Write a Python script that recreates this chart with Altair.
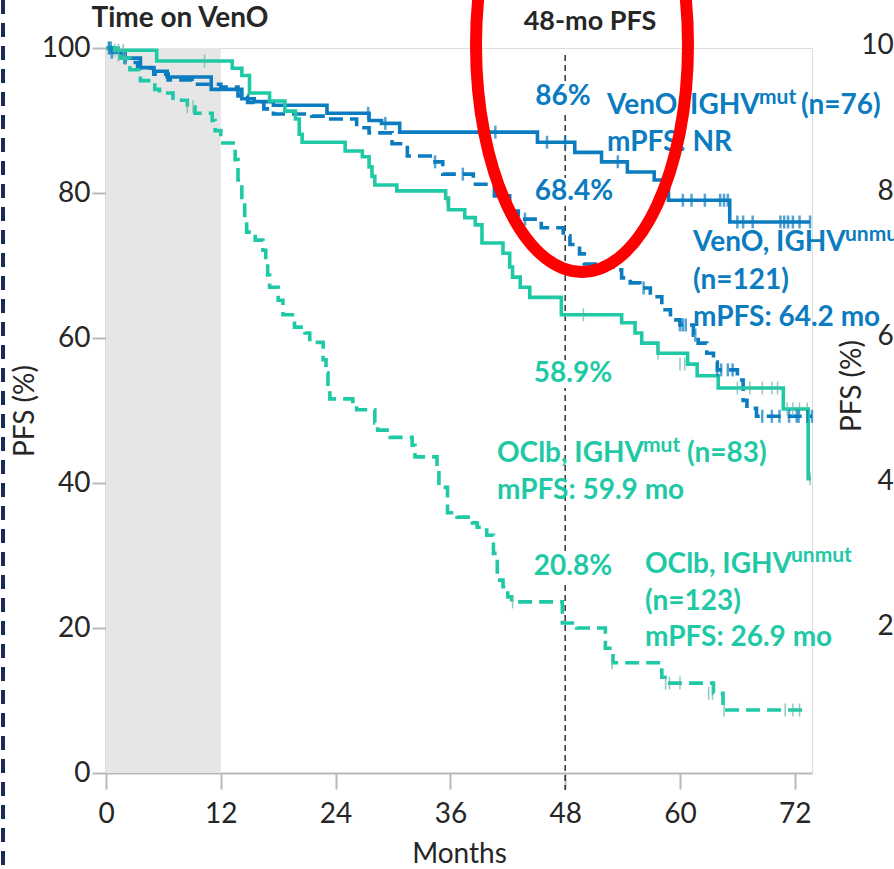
import altair as alt
import pandas as pd

# ---------------- data ----------------
# VenO, IGHV mutated (solid blue)
veno_mut_t = [0, 0.8, 1.6, 3.6, 5.0, 6.4, 11.0, 14.2, 15.5, 17.5, 23.1, 27.5, 28.8, 30.7,
              45.1, 49.0, 51.8, 54.5, 57.3, 58.8, 65.2, 73.6]
veno_mut_p = [100, 99.4, 98.6, 97.3, 96.8, 96.0, 94.3, 93.0, 92.6, 92.1, 91.0, 90.0, 89.6, 88.4,
              87.0, 85.6, 84.3, 82.9, 81.8, 79.0, 76.0, 76.0]
veno_mut_cens_t = [0.3, 0.6, 27.4, 29.2, 40.7, 46.1, 48.0, 53.5, 60.3, 61.2, 62.6, 64.2, 64.6, 65.0,
                   66.0, 66.6, 67.6, 70.5, 70.9, 71.3, 71.8, 72.5, 73.6]
veno_mut_cens_p = [100, 99.4, 91.0, 89.6, 88.4, 87.0, 87.0, 84.3, 79.0, 79.0, 79.0, 79.0, 79.0, 79.0,
                   76.0, 76.0, 76.0, 76.0, 76.0, 76.0, 76.0, 76.0, 76.0]

# VenO, IGHV unmutated (dashed blue)
veno_unm_t = [0, 0.9, 2.0, 3.3, 5.0, 6.5, 9.0, 12.0, 13.8, 14.8, 16.5, 17.5, 21.5, 23.1, 26.2,
              27.5, 29.9, 31.5, 34.2, 35.2, 38.4, 40.6, 42.2, 43.1, 45.5, 47.8, 48.5, 49.5, 50.0,
              53.0, 53.9, 54.8, 55.8, 56.9, 58.1, 59.0, 60.0, 61.4, 61.9, 62.8, 63.5, 63.9, 66.0,
              66.6, 67.0, 68.0, 73.8]
veno_unm_p = [100, 99.2, 98.0, 97.2, 96.4, 95.6, 95.0, 94.6, 93.4, 92.5, 91.6, 90.9, 90.6, 90.2, 89.0,
              88.3, 86.8, 85.1, 84.3, 82.6, 81.2, 79.6, 77.5, 76.4, 75.2, 74.1, 72.9, 71.6, 70.2,
              69.4, 68.3, 67.6, 66.9, 65.7, 63.9, 62.5, 61.8, 60.4, 59.3, 57.9, 56.7, 55.6, 54.2,
              51.4, 50.3, 49.2, 49.2]
veno_unm_cens_t = [0.5, 34.4, 37.3, 43.8, 56.2, 60.0, 60.3, 60.6, 61.6, 63.9, 64.3, 65.0, 65.5,
                   68.6, 69.6, 70.4, 71.4, 72.2, 72.4, 73.3, 73.8]
veno_unm_cens_p = [100, 84.3, 82.6, 76.4, 66.9, 61.8, 61.8, 61.8, 60.4, 55.6, 55.6, 55.6, 55.6,
                   49.2, 49.2, 49.2, 49.2, 49.2, 49.2, 49.2, 49.2]

# OClb, IGHV mutated (solid teal)
oclb_mut_t = [0, 0.6, 5.3, 13.2, 14.2, 15.0, 17.1, 18.7, 19.8, 20.2, 20.5, 25.0, 26.8, 27.5, 27.8,
              28.1, 30.4, 35.5, 35.8, 37.5, 38.6, 39.3, 41.5, 42.2, 42.5, 43.3, 44.3, 47.6, 53.9,
              55.3, 56.0, 57.7, 60.8, 61.8, 64.0, 70.8, 73.4, 73.7]
oclb_mut_p = [100, 99.7, 98.2, 97.2, 96.2, 93.8, 92.7, 91.3, 90.2, 88.1, 87.0, 85.8, 85.0, 83.6, 82.3,
              81.1, 80.3, 79.3, 77.7, 76.6, 75.6, 73.1, 71.7, 69.8, 68.4, 67.0, 65.6, 63.2, 62.1,
              60.7, 59.3, 57.9, 56.4, 54.8, 53.1, 50.2, 40.6, 40.6]
oclb_mut_cens_t = [0.3, 0.9, 1.3, 1.8, 10.3, 35.6, 49.9, 57.7, 60.0, 60.5, 66.0, 67.3, 68.6, 69.6,
                   70.2, 71.2, 71.8, 72.5, 73.3, 73.6]
oclb_mut_cens_p = [100, 99.7, 99.7, 99.7, 98.2, 79.3, 63.2, 57.9, 56.4, 56.4, 53.1, 53.1, 53.1, 53.1,
                   53.1, 50.2, 50.2, 50.2, 50.2, 40.6]

# OClb, IGHV unmutated (dashed teal)
oclb_unm_t = [0, 1.5, 2.5, 3.6, 5.1, 5.6, 7.0, 8.5, 9.3, 11.1, 11.4, 12.0, 13.5, 13.8, 14.2, 14.5,
              14.7, 15.6, 16.4, 16.7, 16.9, 17.1, 18.0, 18.5, 19.7, 20.8, 21.3, 22.7, 23.0, 23.2,
              23.4, 25.8, 26.2, 28.1, 28.4, 29.7, 32.0, 32.3, 34.6, 34.8, 35.7, 36.7, 38.3, 38.8,
              39.8, 40.5, 40.9, 41.5, 42.0, 42.4, 47.7, 49.2, 52.2, 53.0, 58.1, 58.7, 63.5, 64.5, 72.8]
oclb_unm_p = [100, 98.6, 97.0, 95.5, 94.3, 93.8, 92.8, 91.9, 91.0, 90.0, 88.6, 86.9, 84.6, 81.8, 79.0,
              76.3, 74.6, 73.5, 72.1, 70.8, 68.7, 67.0, 65.2, 63.2, 61.5, 60.7, 59.4, 57.0, 55.2, 52.8,
              51.6, 50.8, 50.1, 48.3, 47.3, 46.3, 45.2, 43.6, 41.8, 39.4, 35.9, 35.3, 34.5, 33.9,
              32.8, 30.3, 26.6, 25.7, 24.3, 23.6, 20.7, 20.0, 17.2, 15.2, 13.2, 12.4, 11.0, 8.7, 8.7]
oclb_unm_cens_t = [1.3, 2.0, 8.5, 9.1, 42.5, 52.9, 58.5, 58.9, 60.0, 63.0, 63.4, 64.6, 71.0, 71.8, 72.5]
oclb_unm_cens_p = [99.0, 98.6, 91.9, 91.9, 23.6, 15.2, 12.4, 12.4, 12.4, 11.0, 11.0, 8.7, 8.7, 8.7, 8.7]

SERIES = ["VenO mut", "VenO unmut", "OClb mut", "OClb unmut"]
x_ticks = [0, 12, 24, 36, 48, 60, 72]
y_ticks = [0, 20, 40, 60, 80, 100]
shade_span = [0, 12]          # "Time on VenO"
landmark_month = [48]         # 48-mo PFS

# ---------------- styling ----------------
BLUE = "#0c7cc0"
TEAL = "#1fc9a6"
TEAL_CENS = "#5db7a4"
DARK = "#262626"
FONT = "Lato"
ORIGIN_X, ORIGIN_Y = 106, 48   # plot origin in page pixels
W, H = 706, 725


def frame(t, p, name):
    return pd.DataFrame({"month": t, "pct": p, "series": name})


curves = pd.concat([
    frame(veno_mut_t, veno_mut_p, SERIES[0]),
    frame(veno_unm_t, veno_unm_p, SERIES[1]),
    frame(oclb_mut_t, oclb_mut_p, SERIES[2]),
    frame(oclb_unm_t, oclb_unm_p, SERIES[3]),
])
cens_blue = pd.concat([frame(veno_mut_cens_t, veno_mut_cens_p, SERIES[0]),
                       frame(veno_unm_cens_t, veno_unm_cens_p, SERIES[1])])
cens_teal = pd.concat([frame(oclb_mut_cens_t, oclb_mut_cens_p, SERIES[2]),
                       frame(oclb_unm_cens_t, oclb_unm_cens_p, SERIES[3])])

xs = alt.Scale(domain=[0, 73.8], nice=False, zero=False)
ys = alt.Scale(domain=[0, 100], nice=False)
x_axis = alt.Axis(values=x_ticks, title="Months", grid=False, domainColor="#b9b9b9", domainWidth=2,
                  tickColor="#b9b9b9", tickWidth=2, tickSize=16, labelFont=FONT, labelFontSize=28,
                  labelColor=DARK, labelPadding=11, titleFont=FONT, titleFontSize=28,
                  titleFontWeight="normal", titleColor=DARK, titlePadding=12, labelFlush=False)
y_axis = alt.Axis(values=y_ticks, title="PFS (%)", grid=False, domainColor="#b9b9b9", domainWidth=2,
                  tickColor="#b9b9b9", tickWidth=2, tickSize=14, labelFont=FONT, labelFontSize=28,
                  labelColor=DARK, labelPadding=2, titleFont=FONT, titleFontSize=28,
                  titleFontWeight="normal", titleColor=DARK, titlePadding=2, labelFlush=False)
X = alt.X("month:Q", scale=xs, axis=x_axis)
Y = alt.Y("pct:Q", scale=ys, axis=y_axis)

shade = alt.Chart(pd.DataFrame({"month": [shade_span[0]], "m2": [shade_span[1]],
                                "pct": [0], "p2": [100]})).mark_rect(color="#e6e6e6").encode(
    x=X, x2="m2", y=Y, y2="p2")

lines = alt.Chart(curves).mark_line(interpolate="step-after", strokeWidth=3.6).encode(
    x=X, y=Y,
    color=alt.Color("series:N", scale=alt.Scale(domain=SERIES, range=[BLUE, BLUE, TEAL, TEAL]),
                    legend=None),
    strokeDash=alt.StrokeDash("series:N", scale=alt.Scale(domain=SERIES,
                              range=[[1, 0], [14, 7], [1, 0], [14, 7]]), legend=None),
    detail="series:N",
)

ticks_blue = alt.Chart(cens_blue).mark_tick(orient="vertical", color=BLUE, size=13,
                                             thickness=2.5).encode(x=X, y=Y)
ticks_teal = alt.Chart(cens_teal).mark_tick(orient="vertical", color=TEAL_CENS, size=13,
                                             thickness=1.5).encode(x=X, y=Y)

landmark = alt.Chart(pd.DataFrame({"month": landmark_month})).mark_rule(
    color="#333333", strokeWidth=1.5, strokeDash=[6, 4]).encode(
    x=X, y=alt.value(55 - ORIGIN_Y), y2=alt.value(790 - ORIGIN_Y))


def px(x):
    return x - ORIGIN_X


def py(y):
    return y - ORIGIN_Y


# white boxes behind the 48-month readouts (they interrupt the dashed rule)
box_rows = [[563, 97], [574, 192], [573, 374], [573, 568]]
boxes = alt.Chart(pd.DataFrame({
    "x1": [px(c[0] - 36) for c in box_rows], "x2": [px(c[0] + 36) for c in box_rows],
    "y1": [py(c[1] - 14) for c in box_rows], "y2": [py(c[1] + 14) for c in box_rows],
})).mark_rect(color="white").encode(
    x=alt.X("x1:Q", scale=None, axis=None), x2="x2:Q",
    y=alt.Y("y1:Q", scale=None, axis=None), y2="y2:Q")


def text_layer(rows, align, weight="bold", angle=0):
    df = pd.DataFrame(rows, columns=["text", "x", "y", "size", "color"])
    df["x"] = df["x"].map(px)
    df["y"] = df["y"].map(py)
    return alt.Chart(df).mark_text(align=align, baseline="middle", font=FONT, fontWeight=weight,
                                   angle=angle).encode(
        x=alt.X("x:Q", scale=None, axis=None),
        y=alt.Y("y:Q", scale=None, axis=None),
        text="text:N",
        size=alt.Size("size:Q", scale=None, legend=None),
        color=alt.Color("color:N", scale=None, legend=None),
    )


center_bold = text_layer([
    ["Time on VenO", 180, 19, 28, DARK],
    ["48-mo PFS", 590, 22, 27, DARK],
    ["86%", 563, 97, 28, BLUE],
    ["68.4%", 574, 192, 28, BLUE],
    ["58.9%", 573, 374, 28, TEAL],
    ["20.8%", 573, 567, 28, TEAL],
], "center")

left_bold = text_layer([
    ["VenO, IGHV", 607, 106, 28, BLUE],
    ["mut", 759, 98, 21, BLUE],
    ["(n=76)", 801, 106, 28, BLUE],
    ["mPFS: NR", 607, 143, 28, BLUE],
    ["VenO, IGHV", 693, 243, 28, BLUE],
    ["unmut", 845, 235, 21, BLUE],
    ["(n=121)", 693, 281, 28, BLUE],
    ["mPFS: 64.2 mo", 693, 318, 28, BLUE],
    ["OClb, IGHV", 497, 454, 28, TEAL],
    ["mut", 643, 446, 21, TEAL],
    ["(n=83)", 687, 454, 28, TEAL],
    ["mPFS: 59.9 mo", 497, 491, 28, TEAL],
    ["OClb, IGHV", 645, 565, 28, TEAL],
    ["unmut", 791, 556, 21, TEAL],
    ["(n=123)", 645, 602, 28, TEAL],
    ["mPFS: 26.9 mo", 645, 638, 28, TEAL],
], "left")

# the neighbouring panel's axis that peeks in at the right edge
right_labels = text_layer([
    ["100", 910, 46, 28, DARK],
    ["80", 910, 192, 28, DARK],
    ["60", 910, 337, 28, DARK],
    ["40", 910, 482, 28, DARK],
    ["20", 910, 627, 28, DARK],
], "right", weight="normal")
right_title = text_layer([["PFS (%)", 853, 386, 28, DARK]], "center", weight="normal", angle=270)

# red highlight ellipse around the 48-month readout (its top runs off the page)
ell_cx, ell_cy, ell_rx, ell_ry = 582, 45, 106, 227
ratio = ell_rx / ell_ry
ellipse_path = (f"M {-ratio} 0 A {ratio} 1 0 1 0 {ratio} 0 "
                f"A {ratio} 1 0 1 0 {-ratio} 0 Z")
ellipse = alt.Chart(pd.DataFrame({"k": [0]})).mark_point(
    shape=ellipse_path, size=(2 * ell_ry) ** 2, filled=False, stroke="#ff0000",
    strokeWidth=12, opacity=1).encode(x=alt.value(px(ell_cx)), y=alt.value(py(ell_cy)))

# dashed navy slide border at the left edge
border = alt.Chart(pd.DataFrame({"k": [0]})).mark_rule(
    color="#1b2a57", strokeWidth=4, strokeDash=[14, 9]).encode(
    x=alt.value(px(3)), y=alt.value(py(0)), y2=alt.value(py(869)))

chart = alt.layer(
    shade, landmark, boxes, lines, ticks_teal, ticks_blue, center_bold, left_bold,
    right_labels, right_title, ellipse, border,
).properties(
    width=W, height=H,
    autosize=alt.AutoSizeParams(type="none"),
    padding={"left": ORIGIN_X, "top": ORIGIN_Y, "right": 894 - ORIGIN_X - W,
             "bottom": 869 - ORIGIN_Y - H},
).configure_view(stroke=None).configure(background="white")

chart.save("out.html", embed_options={"renderer": "svg", "actions": False})
